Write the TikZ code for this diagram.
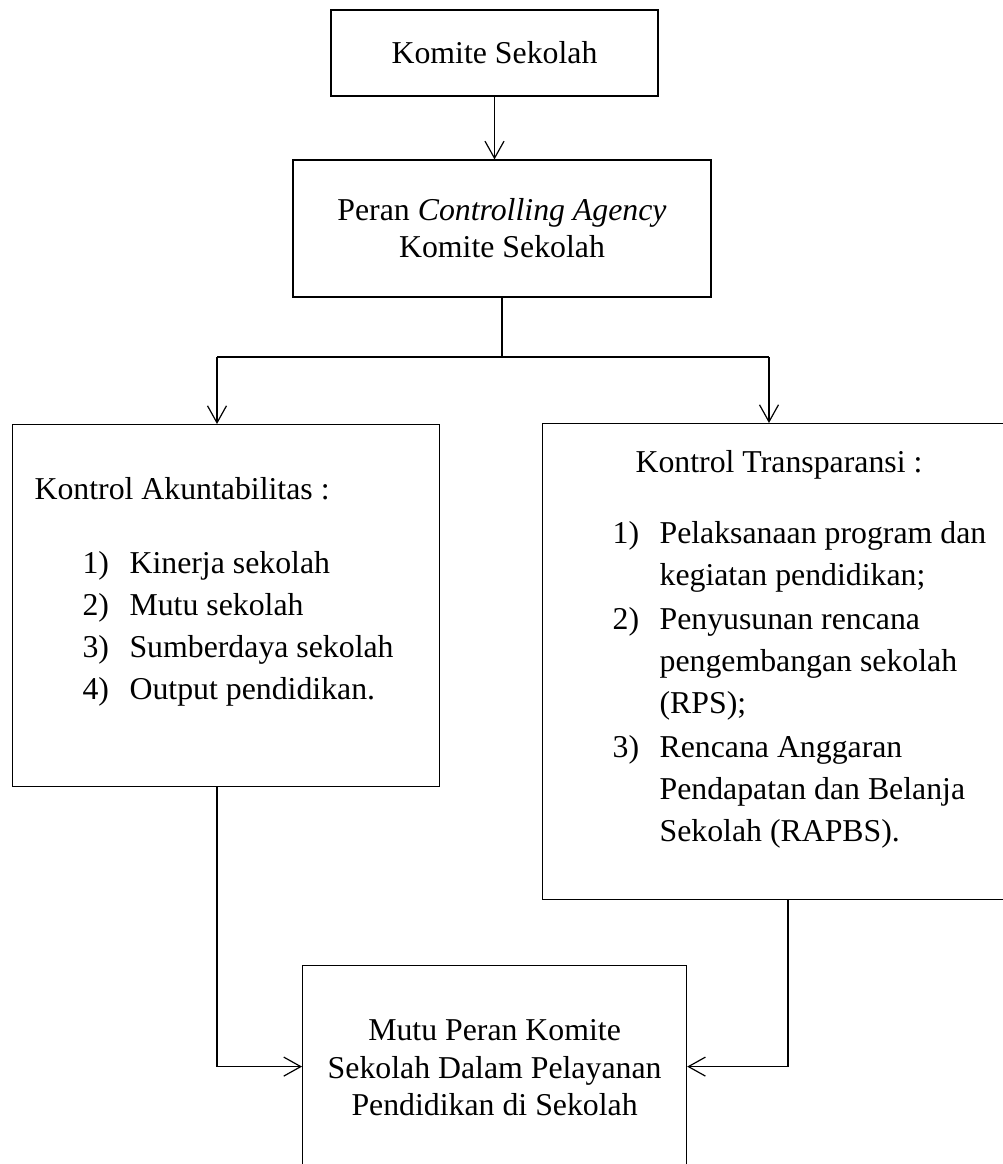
\documentclass[tikz,border=0pt]{standalone}
\usepackage{fontspec}
\setmainfont{Liberation Serif}
\usetikzlibrary{arrows.meta}

\tikzset{
  kotak/.style={draw, line width=0.6pt, inner sep=0pt},
  garis/.style={line width=0.6pt},
  panah/.style={line width=0.6pt, -{Straight Barb[length=8.5pt,width=9.5pt]}}
}
\newcommand{\butir}[2]{\hspace*{35pt}\makebox[23.5pt][l]{#1}#2}
\newcommand{\lanjut}[1]{\hspace*{58.5pt}#1}

\begin{document}
\begin{tikzpicture}[x=0.5pt, y=-0.5pt, font=\fontsize{15.9pt}{18.5pt}\selectfont]
\path[use as bounding box] (0,0) rectangle (1003,1164);
\clip (0,0) rectangle (1003,1164);
% boxes
\node[kotak, minimum width=163.5pt, minimum height=43pt] (komite) at (494.5,53) {Komite Sekolah};
\node[kotak, minimum width=209pt, minimum height=68.5pt, align=center] (peran) at (502,228.5) {Peran \textit{Controlling Agency}\\Komite Sekolah};
\node[kotak, anchor=north west] (akun) at (12,424) {\begin{minipage}[t][181pt][t]{213.5pt}
\fontsize{15.9pt}{21pt}\selectfont\raggedright
\rule{0pt}{37.5pt}\hspace*{11pt}Kontrol Akuntabilitas :\\[16pt]
\butir{1)}{Kinerja sekolah}\\
\butir{2)}{Mutu sekolah}\\
\butir{3)}{Sumberdaya sekolah}\\
\butir{4)}{Output pendidikan.}
\end{minipage}};
\node[kotak, anchor=north west] (trans) at (542,423) {\begin{minipage}[t][238pt][t]{235pt}
\fontsize{15.9pt}{21pt}\selectfont\raggedright
\rule{0pt}{24.5pt}\hspace*{46.5pt}Kontrol Transparansi :\\[14.5pt]
\butir{1)}{Pelaksanaan program dan}\\
\lanjut{kegiatan pendidikan;}\\[1pt]
\butir{2)}{Penyusunan rencana}\\
\lanjut{pengembangan sekolah}\\
\lanjut{(RPS);}\\[1pt]
\butir{3)}{Rencana Anggaran}\\
\lanjut{Pendapatan dan Belanja}\\
\lanjut{Sekolah (RAPBS).}
\end{minipage}};
\node[kotak, anchor=north west] (mutu) at (302,965) {\begin{minipage}[t][101pt][t]{192pt}
\fontsize{15.9pt}{18.75pt}\selectfont\centering
\rule{0pt}{37.5pt}Mutu Peran Komite\\
Sekolah Dalam Pelayanan\\
Pendidikan di Sekolah
\end{minipage}};
% connectors
\coordinate (cabang) at (502,357);
\coordinate (kiri) at (217,357);
\coordinate (kanan) at (769,357);
\coordinate (kananbawah) at (788,0);
\draw[panah] (komite) -- (komite |- peran.north);
\draw[garis] (peran.south) -- (cabang);
\draw[garis] (kiri) -- (kanan);
\draw[panah] (kiri) -- (kiri |- akun.north);
\draw[panah] (kanan) -- (kanan |- trans.north);
\draw[panah] (akun.south -| kiri) |- (mutu.west);
\draw[panah] (trans.south -| kananbawah) |- (mutu.east);
\end{tikzpicture}
\end{document}
